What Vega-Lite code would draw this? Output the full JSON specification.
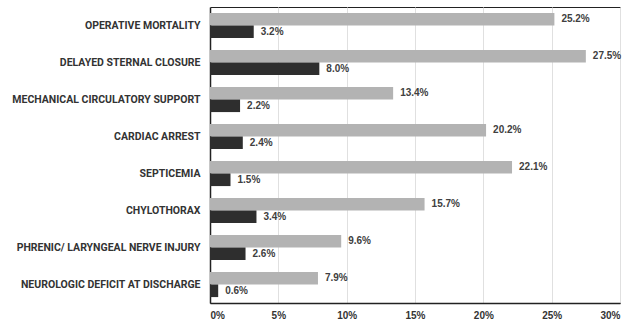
{
  "$schema": "https://vega.github.io/schema/vega-lite/v6.json",
  "autosize": "none",
  "width": 410,
  "height": 296,
  "padding": {"left": 210, "top": 7, "right": 20, "bottom": 20},
  "background": "white",
  "config": {
    "view": {"stroke": "#222", "strokeWidth": 1},
    "font": "Liberation Sans"
  },
  "data": {
    "values": [
      {"category": "OPERATIVE MORTALITY", "series": "A", "value": 0.252},
      {"category": "OPERATIVE MORTALITY", "series": "B", "value": 0.032},
      {"category": "DELAYED STERNAL CLOSURE", "series": "A", "value": 0.275},
      {"category": "DELAYED STERNAL CLOSURE", "series": "B", "value": 0.080},
      {"category": "MECHANICAL CIRCULATORY SUPPORT", "series": "A", "value": 0.134},
      {"category": "MECHANICAL CIRCULATORY SUPPORT", "series": "B", "value": 0.022},
      {"category": "CARDIAC ARREST", "series": "A", "value": 0.202},
      {"category": "CARDIAC ARREST", "series": "B", "value": 0.024},
      {"category": "SEPTICEMIA", "series": "A", "value": 0.221},
      {"category": "SEPTICEMIA", "series": "B", "value": 0.015},
      {"category": "CHYLOTHORAX", "series": "A", "value": 0.157},
      {"category": "CHYLOTHORAX", "series": "B", "value": 0.034},
      {"category": "PHRENIC/ LARYNGEAL NERVE INJURY", "series": "A", "value": 0.096},
      {"category": "PHRENIC/ LARYNGEAL NERVE INJURY", "series": "B", "value": 0.026},
      {"category": "NEUROLOGIC DEFICIT AT DISCHARGE", "series": "A", "value": 0.079},
      {"category": "NEUROLOGIC DEFICIT AT DISCHARGE", "series": "B", "value": 0.006}
    ]
  },
  "encoding": {
    "y": {
      "field": "category",
      "type": "nominal",
      "sort": null,
      "scale": {"paddingInner": 0.32, "paddingOuter": 0.16},
      "axis": {
        "title": null,
        "ticks": false,
        "labelPadding": 10,
        "labelFont": "Roboto",
        "labelFontSize": 10.5,
        "labelFontWeight": "bold",
        "labelColor": "#333",
        "domainColor": "#222",
        "domainWidth": 1.5,
        "labelLimit": 300
      }
    },
    "yOffset": {"field": "series", "type": "nominal", "sort": ["A", "B"]},
    "x": {
      "field": "value",
      "type": "quantitative",
      "scale": {"domain": [0, 0.3], "nice": false},
      "axis": {
        "title": null,
        "format": ".0%",
        "values": [0, 0.05, 0.1, 0.15, 0.2, 0.25, 0.3],
        "ticks": false,
        "labelPadding": 7,
        "labelFontSize": 10,
        "labelFontWeight": "bold",
        "labelColor": "#333",
        "gridColor": "#e0e0e0",
        "domainColor": "#222",
        "domainWidth": 1.5
      }
    }
  },
  "layer": [
    {
      "mark": {"type": "bar"},
      "encoding": {
        "color": {
          "field": "series",
          "type": "nominal",
          "scale": {"domain": ["A", "B"], "range": ["#b3b3b3", "#2e2e2e"]},
          "legend": null
        }
      }
    },
    {
      "mark": {"type": "text", "align": "left", "baseline": "middle", "dx": 7, "fontSize": 10, "fontWeight": "bold", "color": "#404040"},
      "encoding": {
        "text": {"field": "value", "type": "quantitative", "format": ".1%"}
      }
    }
  ]
}
